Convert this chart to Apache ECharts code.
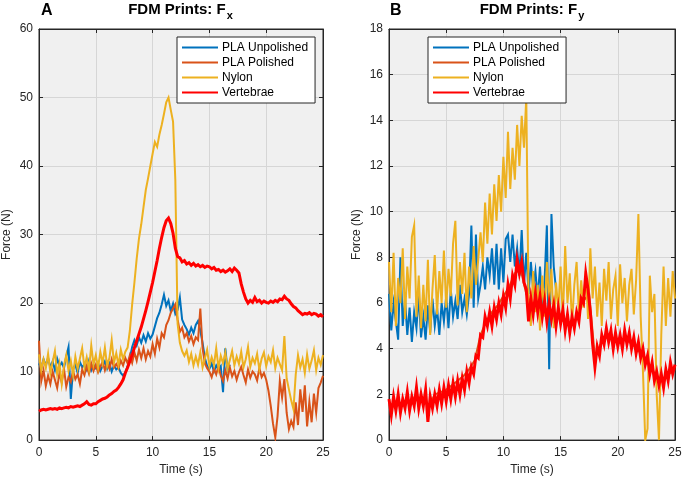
<!DOCTYPE html>
<html>
<head>
<meta charset="utf-8">
<script src="https://cdn.jsdelivr.net/npm/echarts@6/dist/echarts.min.js"></script>
<style>
html,body{margin:0;padding:0;background:#fff;}
#chart{width:685px;height:481px;}
</style>
</head>
<body>
<div id="chart"></div>
<script>
// ---------- data (time step 0.2 s unless stated) ----------
const seriesNames = ['PLA Unpolished', 'PLA Polished', 'Nylon', 'Vertebrae'];
const xTicks = [0, 5, 10, 15, 20, 25];

// Panel A : Fx (N)
const fxUnpolished = [
  11.2,10.4,11.8,10.9,12.0,10.6,11.5,10.2,11.9,10.8,
  11.3,10.5,12.2,13.6,6.0,10.4,11.0,9.8,11.4,10.6,
  11.1,10.3,11.6,10.2,11.0,10.5,11.3,10.1,10.8,11.5,
  10.4,11.2,10.0,10.9,10.3,10.6,9.8,9.4,9.9,10.8,
  12.0,13.6,14.6,13.8,15.0,14.2,15.3,14.4,15.6,14.8,
  15.4,16.6,17.8,18.6,19.8,21.2,19.6,20.4,18.8,19.9,
  18.4,19.0,20.8,17.6,16.8,16.2,15.4,16.4,15.6,16.8,
  17.4,16.0,14.2,12.0,10.8,10.4,11.2,10.0,10.9,10.3,
  10.8,7.0,13.4,10.2,11.0
];
const fxPolished = [
  14.5,8.6,10.2,7.9,9.4,8.2,10.0,8.8,7.6,9.8,
  8.4,10.4,7.8,9.2,8.5,10.1,8.9,9.6,8.2,10.3,
  9.5,10.8,9.7,11.2,10.1,11.0,9.9,10.7,11.5,10.2,
  11.3,10.4,11.8,10.6,11.1,10.5,11.6,10.9,12.0,11.2,
  12.4,11.3,12.8,11.6,13.2,12.0,13.4,11.8,13.0,12.2,
  14.0,12.6,14.8,13.5,15.6,15.0,16.8,17.5,18.6,19.2,
  19.8,17.6,15.8,16.4,15.0,15.6,14.4,15.2,14.0,15.0,
  14.6,19.2,13.4,11.2,10.5,10.0,9.2,10.4,9.6,10.8,
  9.4,8.6,10.2,9.0,10.6,9.3,10.1,8.8,9.9,10.7,
  9.5,8.4,10.3,9.1,10.0,9.6,8.7,10.5,9.2,9.8,
  8.8,7.2,5.0,2.4,0.4,3.5,8.6,6.2,8.9,4.0,
  1.6,2.8,1.9,5.5,2.2,7.4,4.1,8.0,2.0,5.6,
  2.6,6.8,4.0,7.6,8.4,9.4
];
const fxNylon = [
  12.5,10.2,11.8,10.5,12.6,9.8,11.4,13.0,9.6,11.2,
  8.2,10.9,12.4,10.1,11.6,9.5,12.2,10.4,11.9,13.4,
  10.6,12.1,10.3,13.8,11.0,12.4,10.5,12.9,11.2,13.5,
  10.8,12.0,14.6,11.3,12.7,10.9,13.2,11.8,12.9,13.5,
  16.0,19.8,23.0,26.5,29.4,31.5,34.0,36.5,38.2,40.0,
  41.8,43.5,42.8,44.6,46.0,47.6,49.3,50.0,48.2,46.5,
  38.0,17.0,14.2,13.0,12.3,13.1,11.4,12.6,10.9,12.2,
  11.0,12.8,10.6,11.9,13.2,10.8,12.1,11.0,13.4,10.5,
  12.3,11.2,12.8,10.4,11.7,13.0,10.9,12.2,11.1,12.9,
  10.6,11.8,13.6,10.7,12.0,11.2,12.6,10.3,11.9,12.8,
  10.8,12.2,11.4,13.1,10.5,12.0,11.1,10.2,15.2,9.0,
  7.4,5.8,4.5,9.6,12.4,10.6,11.8,9.8,12.5,10.4,
  11.6,13.1,10.2,12.0,11.0,12.4
];
const fxVertebrae = [
  4.2,4.4,4.5,4.4,4.5,4.6,4.5,4.6,4.5,4.7,
  4.6,4.7,4.8,4.7,4.9,4.8,4.9,5.0,4.9,5.1,
  5.3,5.6,5.2,5.1,5.3,5.3,5.6,5.8,6.0,6.1,
  6.3,6.6,6.8,7.1,7.3,7.7,8.2,8.8,9.8,10.6,
  11.5,12.4,13.5,14.5,15.5,16.5,17.7,18.9,20.2,21.6,
  23.0,24.6,26.2,28.0,29.6,31.0,32.0,32.4,31.6,30.2,
  28.0,26.8,26.6,26.0,26.2,25.7,25.9,25.5,25.8,25.4,
  25.6,25.3,25.5,25.2,25.4,25.3,25.0,25.2,24.8,24.9,
  24.6,24.8,24.5,24.7,25.0,24.6,25.1,24.8,24.4,22.8,
  21.6,20.6,20.0,20.4,20.1,20.8,20.2,20.4,20.0,20.3,
  20.1,20.0,20.3,20.1,20.4,20.2,20.6,20.5,21.0,20.6,
  20.4,19.9,19.5,19.3,18.9,18.6,18.3,18.5,18.4,18.6,
  18.3,18.5,18.4,18.1,18.3,18.0
];

// Panel B : Fy (N)
const fyUnpolished = [
  6.4,4.8,6.0,5.2,4.4,8.0,5.0,6.2,4.6,5.8,
  4.3,5.6,4.9,6.4,4.5,5.4,4.4,5.9,4.7,6.2,
  5.0,5.8,4.6,6.0,5.2,6.3,4.9,6.6,5.4,6.1,
  5.3,6.8,5.6,6.2,5.5,6.4,9.4,5.8,9.0,6.2,
  6.8,7.6,6.6,8.0,7.2,8.4,6.8,8.6,6.6,8.4,
  6.9,8.8,9.0,7.8,9.0,7.6,8.4,7.2,9.2,6.8,
  8.2,6.4,7.8,6.6,7.4,6.2,7.6,5.8,7.0,9.4,
  3.1,9.9,7.6,6.6
];
const fyPolished = [ // time step 0.5 s
  1.5,1.6,1.5,1.7,1.6,1.8,1.7,1.5,2.0,2.1,
  2.2,2.4,2.6,2.8,3.1,3.5,4.6,5.2,5.6,5.9,
  6.3,6.7,7.3,7.5,6.4,5.9,5.8,5.7,5.6,5.4,
  5.3,5.1,5.1,5.4,6.1,6.4,3.6,4.2,4.5,4.4,
  4.4,4.4,4.3,4.1,3.8,3.4,3.1,2.7,2.6,2.9,
  3.1
];
const fyNylon = [
  7.8,5.6,8.2,5.0,7.1,6.0,8.4,5.3,7.6,6.2,
  8.9,9.4,5.4,7.2,4.9,6.8,5.2,7.9,4.6,6.6,
  8.1,5.5,7.4,6.0,8.3,5.8,7.5,6.3,8.6,9.6,
  5.9,7.8,6.4,8.2,5.6,7.6,6.2,8.5,6.8,7.9,
  9.1,7.8,10.4,8.6,10.8,9.0,11.2,9.6,11.6,10.0,
  12.4,10.6,13.5,11.0,12.8,11.4,13.8,12.0,14.2,12.8,
  15.0,6.0,5.0,7.4,5.6,6.8,4.8,7.2,5.4,7.8,
  6.0,7.5,4.9,6.9,5.7,7.6,5.2,8.5,6.0,7.3,
  5.1,6.8,7.8,5.5,7.0,5.8,7.4,5.3,8.4,6.2,
  7.6,5.4,6.9,5.0,7.5,6.1,7.8,5.3,6.6,7.2,
  5.0,7.7,6.0,7.1,5.2,6.8,7.5,5.5,7.0,9.9,
  5.4,3.0,0.0,0.5,7.2,5.6,6.4,2.0,0.0,4.6,
  7.6,5.0,7.1,5.4,7.4,6.2
];
const fyVertebrae = [
  1.8,1.1,1.9,1.3,2.0,1.2,1.8,1.4,2.1,1.3,
  1.9,1.5,2.3,1.4,2.0,1.5,2.2,0.8,1.9,1.4,
  2.0,1.5,2.2,1.6,2.3,1.7,2.4,1.8,2.5,1.9,
  2.6,2.0,2.7,2.2,3.0,2.5,3.2,2.9,3.7,3.6,
  4.6,4.5,5.4,5.0,5.6,5.0,5.8,5.3,6.0,5.5,
  6.3,5.8,6.8,6.2,7.2,6.8,7.9,7.3,7.8,6.9,
  6.6,5.2,6.2,5.5,6.4,5.6,6.3,5.4,6.1,5.2,
  6.0,5.3,5.9,5.0,5.8,5.1,5.7,4.8,5.5,4.7,
  5.4,4.9,5.6,5.2,6.2,6.0,7.3,6.6,5.6,4.2,
  3.2,4.1,3.7,4.6,4.2,4.9,4.3,4.8,4.0,4.7,
  4.1,4.6,4.0,4.8,4.2,4.7,4.0,4.5,3.8,4.3,
  3.6,4.0,3.3,3.7,2.9,3.4,2.6,3.0,2.4,2.9,
  2.3,3.1,2.6,3.4,2.9,3.3
];

// ---------- styling ----------
const colors = ['#0072BD', '#D95319', '#EDB120', '#FF0000'];
const FONT = '"Liberation Sans", Arial, Helvetica, sans-serif';
const INK = '#262626';

function pairs(vals, step) {
  return vals.map((v, i) => [Math.round(i * step * 100) / 100, v]);
}

const gridA = { left: 38, top: 29, width: 285, height: 415 };
const gridB = { left: 389, top: 29, width: 286, height: 414 };

function mainX(gi) {
  return {
    gridIndex: gi, type: 'value', min: 0, max: 25, interval: 5,
    name: 'Time (s)', nameLocation: 'middle', nameGap: 22,
    nameTextStyle: { fontFamily: FONT, fontSize: 12, color: INK },
    axisLine: { onZero: false, lineStyle: { color: INK, width: 1 } },
    axisTick: { inside: true, length: 4, lineStyle: { color: INK } },
    axisLabel: { margin: 7, fontFamily: FONT, fontSize: 12, color: INK },
    splitLine: { show: true, lineStyle: { color: '#d6d6d6', width: 1 } }
  };
}
function mainY(gi, max, interval) {
  return {
    gridIndex: gi, type: 'value', min: 0, max: max, interval: interval,
    name: 'Force (N)', nameLocation: 'middle', nameGap: 26, nameRotate: 90,
    nameTextStyle: { fontFamily: FONT, fontSize: 12, color: INK },
    axisLine: { onZero: false, lineStyle: { color: INK, width: 1 } },
    axisTick: { inside: true, length: 4, lineStyle: { color: INK } },
    axisLabel: { margin: 6, fontFamily: FONT, fontSize: 12, color: INK },
    splitLine: { show: true, lineStyle: { color: '#d6d6d6', width: 1 } }
  };
}
function boxX(gi) {
  return {
    gridIndex: gi, type: 'value', position: 'top', min: 0, max: 25, interval: 5,
    axisLine: { onZero: false, lineStyle: { color: INK } },
    axisTick: { inside: true, length: 4, lineStyle: { color: INK } },
    axisLabel: { show: false }, splitLine: { show: false }
  };
}
function boxY(gi, max, interval) {
  return {
    gridIndex: gi, type: 'value', position: 'right', min: 0, max: max, interval: interval,
    axisLine: { onZero: false, lineStyle: { color: INK } },
    axisTick: { inside: true, length: 4, lineStyle: { color: INK } },
    axisLabel: { show: false }, splitLine: { show: false }
  };
}

function line(name, data, step, axisIdx, color, width) {
  return {
    name: name, type: 'line', data: pairs(data, step),
    xAxisIndex: axisIdx, yAxisIndex: axisIdx,
    showSymbol: false, symbol: 'none', sampling: null,
    color: color,
    lineStyle: { color: color, width: width, join: 'miter' },
    emphasis: { disabled: true }
  };
}

function legendAt(left) {
  return {
    orient: 'vertical', left: left, top: 37,
    data: seriesNames,
    icon: 'rect', itemWidth: 36, itemHeight: 2, itemGap: 0,
    backgroundColor: '#ffffff', borderColor: INK, borderWidth: 1, borderRadius: 0,
    padding: [3, 7, 3, 5],
    textStyle: { fontFamily: FONT, fontSize: 12, color: '#000', lineHeight: 15, padding: [0, 0, 0, -1] },
    selectedMode: false
  };
}

// title texts measured so the subscript can be placed after them
const cv = document.createElement('canvas').getContext('2d');
function titleElems(cx, sub) {
  const mainFont = 'bold 15px ' + FONT;
  const subFont = 'bold 11px ' + FONT;
  cv.font = mainFont; const wm = cv.measureText('FDM Prints: F').width;
  cv.font = subFont; const ws = cv.measureText(sub).width;
  const x0 = cx - (wm + 1 + ws) / 2;
  return [
    { type: 'text', x: x0, y: 9.5, style: { text: 'FDM Prints: F', font: mainFont, fill: '#000',
      align: 'left', verticalAlign: 'middle', textAlign: 'left', textVerticalAlign: 'middle' } },
    { type: 'text', x: x0 + wm + 1, y: 16, style: { text: sub, font: subFont, fill: '#000',
      align: 'left', verticalAlign: 'middle', textAlign: 'left', textVerticalAlign: 'middle' } }
  ];
}

const chart = echarts.init(document.getElementById('chart'), null, { renderer: 'canvas' });
chart.setOption({
  animation: false,
  backgroundColor: '#ffffff',
  grid: [
    Object.assign({ show: true, backgroundColor: '#f0f0f0', borderColor: INK, borderWidth: 1 }, gridA),
    Object.assign({ show: true, backgroundColor: '#f0f0f0', borderColor: INK, borderWidth: 1 }, gridB)
  ],
  xAxis: [mainX(0), boxX(0), mainX(1), boxX(1)],
  yAxis: [mainY(0, 60, 10), boxY(0, 60, 10), mainY(1, 18, 2), boxY(1, 18, 2)],
  legend: [legendAt(177), legendAt(428)],
  series: [
    line(seriesNames[0], fxUnpolished, 0.2, 0, colors[0], 2),
    line(seriesNames[1], fxPolished, 0.2, 0, colors[1], 2),
    line(seriesNames[2], fxNylon, 0.2, 0, colors[2], 2),
    line(seriesNames[3], fxVertebrae, 0.2, 0, colors[3], 3),
    line(seriesNames[0], fyUnpolished, 0.2, 2, colors[0], 2),
    line(seriesNames[1], fyPolished, 0.5, 2, colors[1], 2),
    line(seriesNames[2], fyNylon, 0.2, 2, colors[2], 2),
    line(seriesNames[3], fyVertebrae, 0.2, 2, colors[3], 3)
  ],
  graphic: [
    { type: 'text', x: 41, y: 11, style: { text: 'A', font: 'bold 16px ' + FONT, fill: '#000',
      align: 'left', verticalAlign: 'middle', textAlign: 'left', textVerticalAlign: 'middle' } },
    { type: 'text', x: 390, y: 11, style: { text: 'B', font: 'bold 16px ' + FONT, fill: '#000',
      align: 'left', verticalAlign: 'middle', textAlign: 'left', textVerticalAlign: 'middle' } }
  ].concat(titleElems(gridA.left + gridA.width / 2, 'x'), titleElems(gridB.left + gridB.width / 2, 'y'))
});
</script>
</body>
</html>
